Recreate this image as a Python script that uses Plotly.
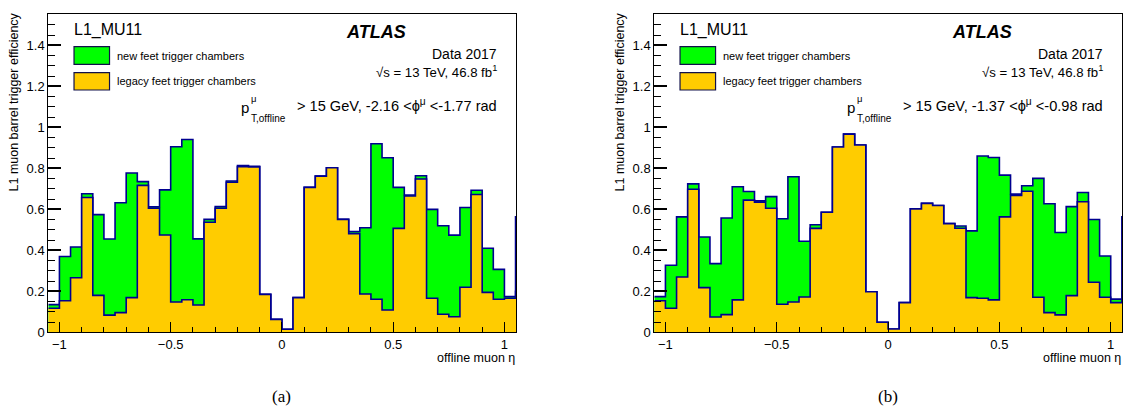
import numpy as np
import plotly.graph_objects as go

# Bin edges in offline muon eta (0.05 wide); the last bin lies just past the drawn range
eta_edges = [round(v, 2) for v in np.arange(-1.05, 1.10 + 1e-9, 0.05)]

# Panel (a): -2.16 < phi < -1.77 rad
new_feet_a = [0.135, 0.370, 0.416, 0.676, 0.574, 0.455, 0.632, 0.777, 0.735, 0.612,
              0.695, 0.905, 0.941, 0.456, 0.551, 0.613, 0.738, 0.813, 0.810, 0.185,
              0.063, 0.015, 0.169, 0.707, 0.762, 0.803, 0.551, 0.491, 0.510, 0.920,
              0.852, 0.707, 0.670, 0.764, 0.600, 0.520, 0.474, 0.609, 0.693, 0.410,
              0.307, 0.174, 0.564]
legacy_a = [0.117, 0.154, 0.266, 0.658, 0.180, 0.084, 0.096, 0.169, 0.717, 0.605,
            0.475, 0.148, 0.159, 0.133, 0.537, 0.605, 0.732, 0.808, 0.807, 0.185,
            0.063, 0.015, 0.169, 0.707, 0.762, 0.803, 0.551, 0.481, 0.187, 0.161,
            0.109, 0.507, 0.665, 0.748, 0.166, 0.088, 0.076, 0.220, 0.672, 0.195,
            0.161, 0.166, 0.200]

# Panel (b): -1.37 < phi < -0.98 rad
new_feet_b = [0.174, 0.327, 0.563, 0.724, 0.465, 0.335, 0.558, 0.710, 0.687, 0.641,
              0.662, 0.554, 0.759, 0.444, 0.525, 0.586, 0.904, 0.967, 0.914, 0.198,
              0.049, 0.016, 0.145, 0.602, 0.629, 0.619, 0.530, 0.519, 0.495, 0.860,
              0.853, 0.767, 0.674, 0.715, 0.751, 0.627, 0.487, 0.613, 0.682, 0.550,
              0.372, 0.162, 0.564]
legacy_b = [0.154, 0.117, 0.270, 0.698, 0.218, 0.075, 0.086, 0.158, 0.645, 0.635,
            0.605, 0.137, 0.148, 0.172, 0.507, 0.586, 0.904, 0.967, 0.914, 0.198,
            0.049, 0.016, 0.145, 0.602, 0.629, 0.619, 0.530, 0.508, 0.169, 0.166,
            0.158, 0.563, 0.668, 0.688, 0.171, 0.096, 0.085, 0.179, 0.637, 0.244,
            0.171, 0.145, 0.200]

phi_ranges = ["-2.16 <ϕ<sup>μ</sup> <-1.77 rad", "-1.37 <ϕ<sup>μ</sup> <-0.98 rad"]
panel_tags = ["(a)", "(b)"]
legend_labels = ["new feet trigger chambers", "legacy feet trigger chambers"]

GREEN = "#00ff00"
YELLOW = "#ffcc00"
NAVY = "#000090"
FONT = "Liberation Sans, Arial, Helvetica, sans-serif"

W, H = 1125, 409
x_domains = [[48.3 / W, 516.0 / W], [654.3 / W, 1122.3 / W]]
y_domain = [(H - 332.3) / H, (H - 14.0) / H]

fig = go.Figure()


def step_trace(values, color, xa, ya):
    return go.Scatter(
        x=eta_edges, y=list(values) + [values[-1]],
        mode="lines", line=dict(shape="hv", color=NAVY, width=1.6),
        fill="tozeroy", fillcolor=color,
        xaxis=xa, yaxis=ya, showlegend=False, hoverinfo="skip",
    )


panels = [(new_feet_a, legacy_a), (new_feet_b, legacy_b)]
annotations = []
shapes = []

for i, (new_vals, old_vals) in enumerate(panels):
    xa = "x" if i == 0 else "x2"
    ya = "y" if i == 0 else "y2"
    fig.add_trace(step_trace(new_vals, GREEN, xa, ya))
    fig.add_trace(step_trace(old_vals, YELLOW, xa, ya))

    xr = f"{xa} domain"
    yr = f"{ya} domain"

    def txt(text, x, y, size, xanchor="left", yanchor="middle", **kw):
        annotations.append(dict(
            text=text, x=x, y=y, xref=xr, yref=yr, showarrow=False,
            xanchor=xanchor, yanchor=yanchor, borderpad=0,
            font=dict(family=FONT, size=size, color="black"), **kw))

    txt("L1_MU11", 0.0528, 0.9497, 16)
    # legend boxes
    for (y0, y1), col, lab, ly in [((0.842, 0.8973), GREEN, legend_labels[0], 0.8665),
                                   ((0.7612, 0.8156), YELLOW, legend_labels[1], 0.788)]:
        shapes.append(dict(type="rect", xref=xr, yref=yr, x0=0.0550, x1=0.1309,
                           y0=y0, y1=y1, fillcolor=col,
                           line=dict(color="#10104a", width=1.2)))
        txt(lab, 0.1441, ly, 11)

    txt("<b><i>ATLAS</i></b>", 0.7663, 0.9434, 18, xanchor="right")
    txt("Data 2017", 0.9609, 0.8759, 14, xanchor="right")
    txt("√s = 13 TeV, 46.8 fb<sup>1</sup>", 0.9609, 0.8209, 13.2, xanchor="right")
    txt("> 15 GeV, " + phi_ranges[i], 0.9609, 0.7141, 14.6, xanchor="right")
    txt("p", 0.4302, 0.7060, 15, xanchor="right")
    txt("μ", 0.4310, 0.735, 9.5)
    txt("T,offline", 0.4315, 0.6720, 10)

    # axis titles
    annotations.append(dict(
        text="L1 muon barrel trigger efficiency", textangle=-90,
        x=(14.0 + 606 * i) / W, y=1 - 11.0 / H, xref="paper", yref="paper",
        xanchor="center", yanchor="top", showarrow=False,
        font=dict(family=FONT, size=12.5, color="black")))
    annotations.append(dict(
        text="offline muon η", x=1.0, y=1 - 358.0 / H, xref=xr, yref="paper",
        xanchor="right", yanchor="middle", showarrow=False, borderpad=0,
        font=dict(family=FONT, size=12.5, color="black")))
    annotations.append(dict(
        text=panel_tags[i], x=(281.5 + 606.5 * i) / W, y=1 - 396.0 / H,
        xref="paper", yref="paper", xanchor="center", yanchor="middle",
        showarrow=False,
        font=dict(family="Liberation Serif, Times New Roman, serif", size=17,
                  color="black")))

xaxis_common = dict(
    range=[-1.05, 1.052], showline=True, mirror=True, linecolor="black",
    linewidth=1, ticks="inside", ticklen=10, tickwidth=1.3, tickcolor="black",
    tick0=0, dtick=0.5, showgrid=False, zeroline=False, automargin=False,
    minor=dict(ticks="inside", dtick=0.1, ticklen=5, tickwidth=1,
               tickcolor="black", showgrid=False),
    tickfont=dict(family=FONT, size=13, color="black"),
)
yaxis_common = dict(
    range=[0, 1.553], domain=y_domain, showline=True, mirror=True,
    linecolor="black", linewidth=1, ticks="inside", ticklen=13, tickwidth=1.5,
    tickcolor="black", tick0=0, dtick=0.2, showgrid=False, zeroline=False,
    automargin=False,
    minor=dict(ticks="inside", dtick=0.05, ticklen=6.5, tickwidth=1.2,
               tickcolor="black", showgrid=False),
    tickfont=dict(family=FONT, size=13, color="black"),
)

fig.update_layout(
    template="none",
    width=W, height=H, autosize=False,
    margin=dict(l=0, r=0, t=0, b=0, pad=0),
    paper_bgcolor="white", plot_bgcolor="white",
    showlegend=False,
    xaxis=dict(domain=x_domains[0], anchor="y", **xaxis_common),
    yaxis=dict(anchor="x", **yaxis_common),
    xaxis2=dict(domain=x_domains[1], anchor="y2", **xaxis_common),
    yaxis2=dict(anchor="x2", **yaxis_common),
    annotations=annotations,
    shapes=shapes,
)

fig.write_html("out.html")
